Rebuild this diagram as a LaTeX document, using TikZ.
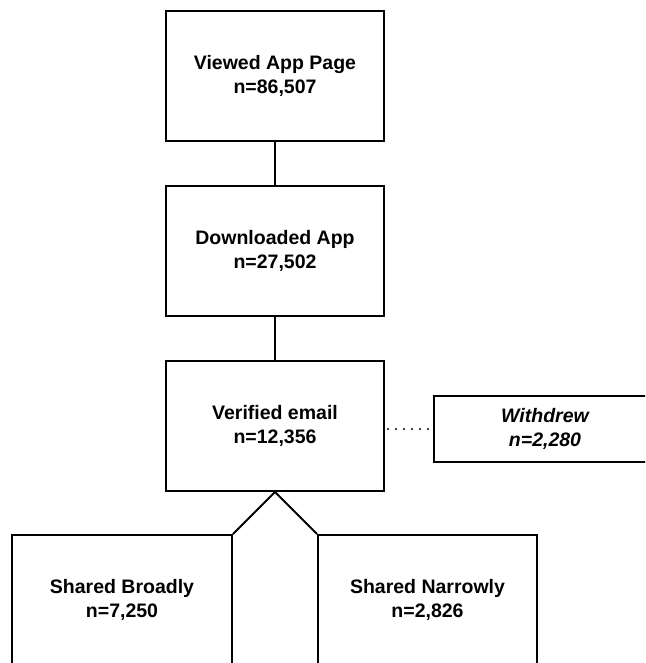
\documentclass[tikz,border=0pt]{standalone}
\usepackage{fontspec}
\setmainfont{Liberation Sans}
\begin{document}
\begin{tikzpicture}[x=1pt,y=-1pt,
  box/.style={draw=black, line width=2pt, minimum width=218pt, minimum height=130pt,
    inner sep=0pt, align=center, font=\fontsize{19.5}{23.5}\selectfont\bfseries},
  sidebox/.style={box, minimum width=222pt, minimum height=66pt,
    font=\fontsize{19.5}{23.5}\selectfont\bfseries\itshape},
  link/.style={draw=black, line width=2pt},
  dotlink/.style={draw=black, line width=2.2pt, line cap=round, dash pattern=on 0pt off 8pt}]
  \useasboundingbox (0,0) rectangle (645,663);
  \clip (0,0) rectangle (645,663);

  % main column
  \node[box] (viewed) at (275,76) {Viewed App Page\\n=86,507};
  \node[box] (downloaded) at (275,251) {Downloaded App\\n=27,502};
  \node[box] (verified) at (275,426) {Verified email\\n=12,356};

  % side branch
  \node[sidebox] (withdrew) at (545,429) {Withdrew\\n=2,280};

  % split into two groups
  \node[box, minimum width=220pt] (broad) at (122,600) {Shared Broadly\\n=7,250};
  \node[box, minimum width=219pt] (narrow) at (427.5,600) {Shared Narrowly\\n=2,826};

  % connectors
  \draw[link] (viewed.south) -- (downloaded.north);
  \draw[link] (downloaded.south) -- (verified.north);
  \draw[dotlink] ([xshift=3pt]verified.east |- withdrew.west) -- (withdrew.west);
  \draw[link] (broad.north east) -- (verified.south) -- (narrow.north west);
\end{tikzpicture}
\end{document}
